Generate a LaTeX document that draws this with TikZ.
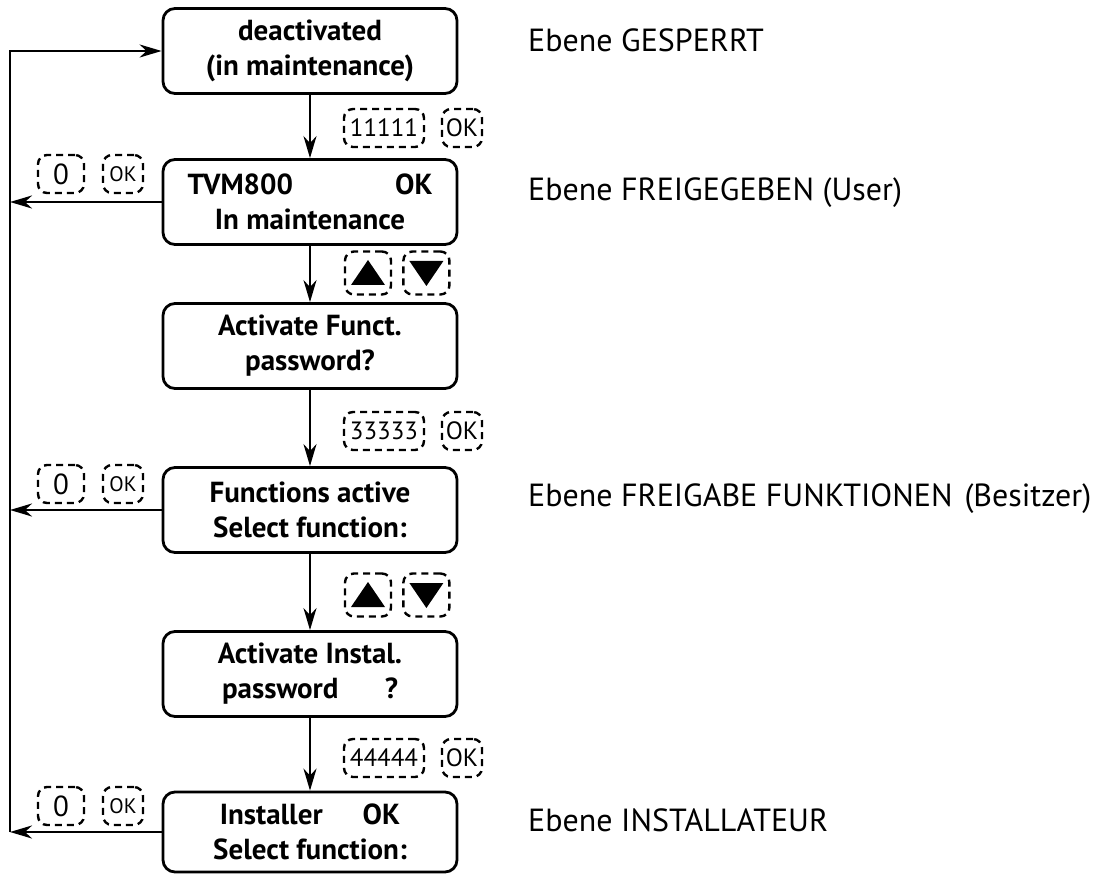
\documentclass[tikz,border=0pt]{standalone}
\usepackage{fontspec}
\setmainfont{PT Sans}
\usetikzlibrary{arrows.meta,positioning}
\tikzset{
  screenbox/.style={draw=black, line width=2.8pt, rounded corners=12pt,
    minimum width=294pt, minimum height=85pt, inner sep=0pt, align=center,
    font=\fontsize{29}{35}\selectfont\bfseries}
}
\newcommand{\arrowkeys}[3]{%
  \node[keybox, minimum width=46pt, minimum height=43pt] (#1up) at (#2,#3) {};
  \node[keybox, minimum width=46pt, minimum height=43pt, right=10pt of #1up] (#1dn) {};
  \fill (#1up.center) ++(-17,12) -- ++(34,0) -- ++(-17,-25) -- cycle;
  \fill (#1dn.center) ++(-17,-12) -- ++(34,0) -- ++(-17,25) -- cycle;%
}
\newcommand{\backkeys}[2]{%
  \node[keybox, minimum width=46pt, font=\fontsize{29}{29}\selectfont] (#1zero) at (61,#2) {0};
  \node[keybox, minimum width=40pt, font=\fontsize{21}{21}\selectfont] (#1ok) at (123,#2) {OK};%
}

\begin{document}
\begin{tikzpicture}[x=1pt,y=-1pt]

  % --- styles ---
  \tikzset{
    keybox/.style={draw=black, line width=2.4pt, dash pattern=on 7pt off 5pt,
      rounded corners=9pt, minimum height=38pt, inner sep=0pt,
      font=\fontsize{25}{25}\selectfont},
    flow/.style={draw=black, line width=2.5pt,
      -{Stealth[length=22pt,width=13pt,inset=7pt]}},
    levellabel/.style={anchor=base west, inner sep=0pt,
      font=\fontsize{32}{32}\selectfont},
  }

  \useasboundingbox (0,0) rectangle (1106,874);

  % =========================
  %  SCREENS
  % =========================

  \node[screenbox] (s1) at (310,51) {deactivated\\(in maintenance)};
  \node[screenbox] (s2) at (310,202) {\makebox[245pt]{TVM800\hfill OK}\\In maintenance};
  \node[screenbox] (s3) at (310,346) {Activate Funct.\\password?};
  \node[screenbox] (s4) at (310,510) {Functions active\\Select function:};
  \node[screenbox] (s5) at (310,674) {Activate Instal.\\\makebox[176pt]{password\hfill ?}};
  \node[screenbox, minimum height=80pt] (s6) at (310,832) {Installer\hspace{40pt}OK\\Select function:};

  \coordinate (rail) at (10,0);

  % --- downward flow ---
  \draw[flow] (s1) -- (s2);
  \draw[flow] (s2) -- (s3);
  \draw[flow] (s3) -- (s4);
  \draw[flow] (s4) -- (s5);
  \draw[flow] (s5) -- (s6);

  % --- back to deactivated ---
  \draw[flow] (s2.west) -- (s2.west -| rail);
  \draw[flow] (s4.west) -- (s4.west -| rail);
  \draw[flow] (s6.west) -- (s6.west -| rail);
  \draw[flow] (s6.west -| rail) |- (s1.west);

  % =========================
  %  KEYS
  % =========================

  \node[keybox, minimum width=80pt] (pw1) at (384,128) {11111};
  \node[keybox, minimum width=40pt] (ok1) at (462,128) {OK};
  \node[keybox, minimum width=80pt] (pw2) at (384,431) {33333};
  \node[keybox, minimum width=40pt] (ok2) at (462,431) {OK};
  \node[keybox, minimum width=80pt] (pw3) at (384,758) {44444};
  \node[keybox, minimum width=40pt] (ok3) at (462,758) {OK};

  \arrowkeys{a1}{368}{273}
  \arrowkeys{a2}{368}{595}

  \backkeys{b1}{174}
  \backkeys{b2}{484}
  \backkeys{b3}{806}

  % =========================
  %  LEVELS
  % =========================

  \node[levellabel] (lv1) at (528,52) {Ebene GESPERRT};
  \node[levellabel] (lv2) at (528,201) {Ebene FREIGEGEBEN (User)};
  \node[levellabel] (lv3) at (528,506) {Ebene FREIGABE FUNKTIONEN\hspace{12pt}(Besitzer)};
  \node[levellabel] (lv4) at (528,831) {Ebene INSTALLATEUR};

\end{tikzpicture}
\end{document}
